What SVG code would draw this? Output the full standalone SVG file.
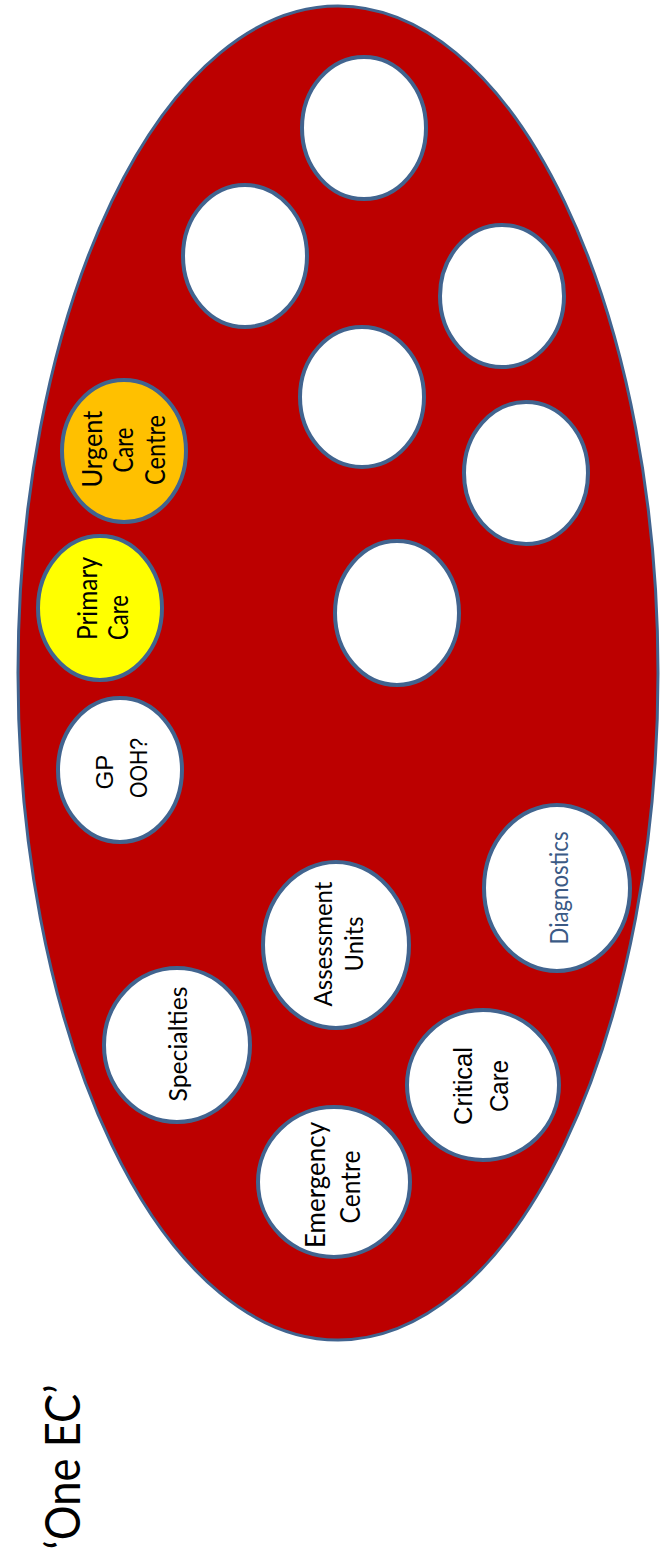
<svg xmlns="http://www.w3.org/2000/svg" width="666" height="1556" viewBox="0 0 666 1556">
<style>
.n{fill:#ffffff;stroke:#41648F;stroke-width:4}
.c{font-family:Lato,"Open Sans",sans-serif;fill:#000;text-anchor:middle}
.a{font-family:"Liberation Sans",Arial,sans-serif;fill:#000;text-anchor:middle}
</style>
<rect width="666" height="1556" fill="#ffffff"/>
<g id="container">
<ellipse cx="338" cy="673" rx="320" ry="667" fill="#BC0000" stroke="#41648F" stroke-width="3"/>
</g>
<g id="title">
<text class="c" x="80" y="1467" font-size="48" transform="rotate(-90 80 1467)" textLength="165" lengthAdjust="spacingAndGlyphs">‘One EC’</text>
</g>
<g id="empty1"><ellipse class="n" cx="364" cy="128" rx="62" ry="71"/></g>
<g id="empty2"><ellipse class="n" cx="245" cy="256" rx="62" ry="71"/></g>
<g id="empty3"><ellipse class="n" cx="502" cy="296" rx="62" ry="71"/></g>
<g id="empty4"><ellipse class="n" cx="362" cy="397" rx="62" ry="70"/></g>
<g id="empty5"><ellipse class="n" cx="526" cy="473" rx="62" ry="71"/></g>
<g id="empty6"><ellipse class="n" cx="397" cy="613" rx="62" ry="72"/></g>
<g id="urgent-care-centre">
<ellipse class="n" cx="124" cy="451" rx="62" ry="71" style="fill:#FFC000"/>
<text class="c" font-size="27" transform="rotate(-90)"><tspan x="-449" y="102" textLength="77" lengthAdjust="spacingAndGlyphs">Urgent</tspan><tspan x="-450" y="133" textLength="45" lengthAdjust="spacingAndGlyphs">Care</tspan><tspan x="-450" y="165" textLength="70" lengthAdjust="spacingAndGlyphs">Centre</tspan></text>
</g>
<g id="primary-care">
<ellipse class="n" cx="100" cy="608" rx="62" ry="72" style="fill:#FFFF00"/>
<text class="c" font-size="27" transform="rotate(-90)" style="text-anchor:start"><tspan x="-640" y="97" textLength="83" lengthAdjust="spacingAndGlyphs">Primary</tspan><tspan x="-640" y="128" textLength="45" lengthAdjust="spacingAndGlyphs">Care</tspan></text>
</g>
<g id="gp-ooh">
<ellipse class="n" cx="120" cy="770" rx="62" ry="72"/>
<text class="a" font-size="23" transform="rotate(-90)"><tspan x="-772" y="113" textLength="35" lengthAdjust="spacingAndGlyphs">GP</tspan><tspan x="-768" y="147" textLength="60" lengthAdjust="spacingAndGlyphs">OOH?</tspan></text>
</g>
<g id="diagnostics">
<ellipse class="n" cx="557" cy="888" rx="73" ry="83"/>
<text class="c" font-size="25" transform="rotate(-90)" style="fill:#3B5A85"><tspan x="-888" y="568" textLength="113" lengthAdjust="spacingAndGlyphs">Diagnostics</tspan></text>
</g>
<g id="assessment-units">
<ellipse class="n" cx="336" cy="945" rx="73" ry="83"/>
<text class="c" font-size="25" transform="rotate(-90)"><tspan x="-944" y="332" textLength="125" lengthAdjust="spacingAndGlyphs">Assessment</tspan><tspan x="-944" y="363" textLength="55" lengthAdjust="spacingAndGlyphs">Units</tspan></text>
</g>
<g id="specialties">
<ellipse class="n" cx="177" cy="1045" rx="73" ry="77"/>
<text class="c" font-size="25" transform="rotate(-90)"><tspan x="-1044" y="187" textLength="115" lengthAdjust="spacingAndGlyphs">Specialties</tspan></text>
</g>
<g id="critical-care">
<ellipse class="n" cx="483" cy="1085" rx="76" ry="75"/>
<text class="a" font-size="25" transform="rotate(-90)"><tspan x="-1086" y="472" textLength="78" lengthAdjust="spacingAndGlyphs">Critical</tspan><tspan x="-1086" y="508" textLength="52" lengthAdjust="spacingAndGlyphs">Care</tspan></text>
</g>
<g id="emergency-centre">
<ellipse class="n" cx="334" cy="1182" rx="76" ry="75"/>
<text class="c" font-size="26" transform="rotate(-90)"><tspan x="-1185" y="325" textLength="126" lengthAdjust="spacingAndGlyphs">Emergency</tspan><tspan x="-1187" y="360" textLength="73" lengthAdjust="spacingAndGlyphs">Centre</tspan></text>
</g>
<g id="connectors"></g>
</svg>
